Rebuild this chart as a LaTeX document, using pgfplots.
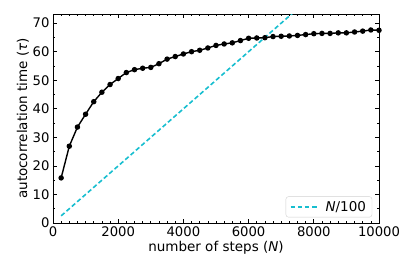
\documentclass[border=0pt]{standalone}
\usepackage{fontspec}
\setmainfont{DejaVu Sans}
\usepackage{pgfplots}
\pgfplotsset{compat=1.18}
\definecolor{mycyan}{RGB}{23,190,207}
\pgfplotstableread{
x y
250 15.8
500 26.9
750 33.6
1000 38.1
1250 42.5
1500 45.8
1750 48.5
2000 50.6
2250 52.7
2500 53.7
2750 54.2
3000 54.5
3250 55.8
3500 57.4
3750 58.3
4000 59.2
4250 60.0
4500 60.5
4750 61.3
5000 62.2
5250 62.7
5500 63.1
5750 63.9
6000 64.7
6250 64.8
6500 64.9
6750 65.3
7000 65.4
7250 65.5
7500 65.7
7750 66.0
8000 66.3
8250 66.4
8500 66.4
8750 66.6
9000 66.6
9250 66.9
9500 67.2
9750 67.6
10000 67.5
}\tau
\pgfplotstableread{
x y
250 2.5
10000 100
}\lin
\begin{document}
\begin{tikzpicture}
\useasboundingbox (-53pt,-54pt) rectangle (362pt,223pt);
\begin{axis}[
  scale only axis,
  width=326pt, height=209pt,
  at={(0,0)}, anchor=south west,
  xmin=0, xmax=10000, ymin=0, ymax=73.2,
  xtick={0,2000,4000,6000,8000,10000},
  ytick={0,10,20,30,40,50,60,70},
  minor x tick num=7,
  minor y tick num=1,
  tick align=inside,
  tick pos=both,
  major tick length=4pt,
  minor tick length=2.2pt,
  every tick/.style={black, line width=0.7pt},
  axis line style={line width=0.8pt},
  scaled x ticks=false,
  /pgf/number format/assume math mode=true,
  xticklabel style={/pgf/number format/1000 sep={}},
  tick label style={font=\fontsize{13.2}{15}\selectfont},
  label style={font=\fontsize{13.5}{15}\selectfont},
  xlabel={number of steps (\textit{N})},
  ylabel={autocorrelation time (\textit{τ})},
  xlabel style={yshift=2pt},
  ylabel style={yshift=-3pt},
  legend style={font=\fontsize{13.5}{15}\selectfont, draw=black!18, rounded corners=2.5pt, at={(0.979,0.027)}, anchor=south east, inner xsep=4pt, inner ysep=2.5pt},
  legend cell align=left,
  legend image code/.code={\draw[#1] (0pt,0pt) -- (28pt,0pt);},
  clip=true,
]
\addplot[black, line width=1.4pt, mark=*, mark size=2pt, forget plot] table[x=x,y=y]{\tau};
\addplot[mycyan, line width=1.6pt, dash pattern=on 4.5pt off 2.6pt] table[x=x,y=y]{\lin};
\addlegendentry{\hspace{4pt}\textit{N}/100}
\end{axis}
\end{tikzpicture}
\end{document}
